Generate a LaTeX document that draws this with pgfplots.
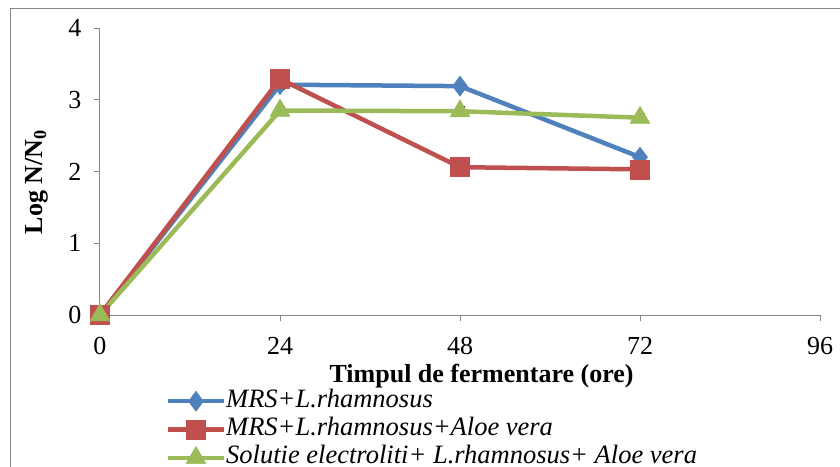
\documentclass[border=0pt]{standalone}
\usepackage{fontspec}
\setmainfont{Liberation Serif}
\usepackage{pgfplots}
\pgfplotsset{compat=1.18}
\definecolor{sblue}{HTML}{4F81BD}
\definecolor{sred}{HTML}{C0504D}
\definecolor{sgreen}{HTML}{9BBB59}
\definecolor{axgray}{HTML}{868686}
\begin{document}
\begin{tikzpicture}
\useasboundingbox (0pt,0pt) rectangle (840pt,-466pt);
\draw[axgray, line width=1pt] (10pt,-470pt) -- (10pt,-8pt) -- (845pt,-8pt);
\begin{axis}[
  at={(100pt,-315pt)}, anchor=south west,
  scale only axis, width=720pt, height=287pt,
  xmin=0, xmax=96, ymin=0, ymax=4,
  axis x line*=bottom, axis y line*=left,
  axis line style={axgray, line width=1pt, -},
  xtick={0,24,48,72,96}, ytick={0,1,2,3,4},
  tick align=outside, major tick length=6pt,
  tick style={axgray, line width=1pt},
  ticklabel style={font=\fontsize{26}{30}\selectfont},
  /pgf/number format/assume math mode=true,
  xticklabel style={yshift=-13pt},
  yticklabel style={xshift=-9pt},
  clip=false,
  xlabel={Timpul de fermentare (ore)},
  xlabel style={font=\bfseries\fontsize{26}{30}\selectfont, at={(axis description cs:0.53,-0.212)}, anchor=center},
  ylabel={Log N/N\textsubscript{0}},
  ylabel style={font=\bfseries\fontsize{26}{30}\selectfont, at={(axis description cs:-0.088,0.463)}, anchor=center},
  legend style={at={(axis description cs:0.091,-0.399)}, anchor=west, draw=none, fill=none, inner sep=0pt,
    font=\itshape\fontsize{26.5}{28}\selectfont,
    nodes={inner sep=0pt, text height=18pt, text depth=6pt},
    row sep=4.3pt},
  legend cell align=left,
  legend image code/.code={\draw[mark repeat=2,mark phase=2,#1] plot coordinates {(0pt,0pt) (28pt,0pt) (56pt,0pt)};},
  every axis plot/.append style={line width=4.5pt, line join=round},
  error bars/error bar style={black, line width=1.2pt, solid},
  error bars/error mark options={black, rotate=90, mark size=4.5pt, line width=1.2pt, solid},
]
\addplot+[sblue, mark=diamond*, mark size=10pt, mark options={fill=sblue, draw=sblue, line width=0.5pt},
  error bars/.cd, y dir=both, y explicit]
  coordinates {(0,0) +- (0,0) (24,3.21) +- (0,0.06) (48,3.19) +- (0,0.05) (72,2.20) +- (0,0.05)};
\addlegendentry{MRS+L.rhamnosus}
\addplot+[sred, mark=square*, mark size=9.5pt, mark options={fill=sred, draw=sred, line width=0.5pt},
  error bars/.cd, y dir=both, y explicit]
  coordinates {(0,0) +- (0,0) (24,3.29) +- (0,0.04) (48,2.06) +- (0,0.03) (72,2.03) +- (0,0.03)};
\addlegendentry{MRS+L.rhamnosus+Aloe vera}
\addplot+[sgreen, mark=triangle*, mark size=11.5pt, mark options={fill=sgreen, draw=sgreen, line width=0.5pt},
  error bars/.cd, y dir=both, y explicit]
  coordinates {(0,0) +- (0,0) (24,2.85) +- (0,0.06) (48,2.84) +- (0,0.06) (72,2.75) +- (0,0.06)};
\addlegendentry{Solutie electroliti+ L.rhamnosus+ Aloe vera}
\end{axis}
\end{tikzpicture}
\end{document}
